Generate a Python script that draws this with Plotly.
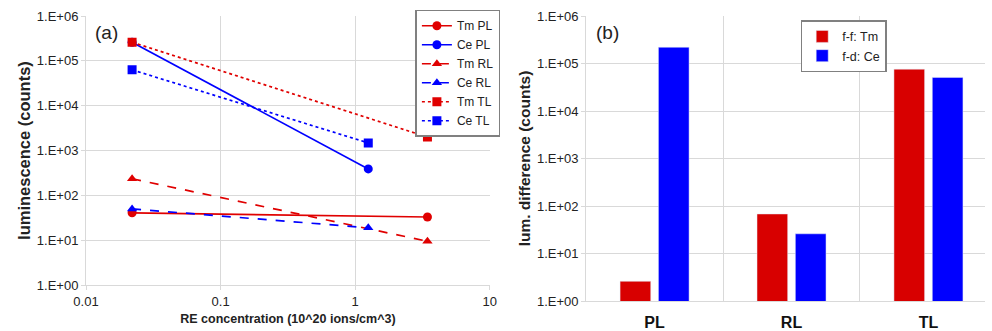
import plotly.graph_objects as go

# ---- data: panel (a) ----
conc_tm = [0.022, 3.44]
conc_ce = [0.022, 1.25]
tm_pl = [41, 33]
ce_pl = [2.6e5, 390]
tm_rl = [235, 9.5]
ce_rl = [50, 19]
tm_tl = [2.6e5, 2000]
ce_tl = [6.3e4, 1480]

# ---- data: panel (b) ----
categories = ["PL", "RL", "TL"]
diff_tm = [2.6, 68, 7.6e4]
diff_ce = [2.2e5, 26, 5.1e4]

ytick_vals = [1, 10, 100, 1e3, 1e4, 1e5, 1e6]
ytick_text = ["1.E+00", "1.E+01", "1.E+02", "1.E+03", "1.E+04", "1.E+05", "1.E+06"]
xtick_vals = [0.01, 0.1, 1, 10]
xtick_text = ["0.01", "0.1", "1", "10"]

RED = "#e00000"
BLUE = "#0000ff"
BAR_RED = "#d80000"
GRID = "#d9d9d9"
FONT = "Liberation Sans, Arial, sans-serif"

fig = go.Figure()

series = [
    ("Tm PL", conc_tm, tm_pl, RED, "solid", "circle"),
    ("Ce PL", conc_ce, ce_pl, BLUE, "solid", "circle"),
    ("Tm RL", conc_tm, tm_rl, RED, "dash", "triangle-up"),
    ("Ce RL", conc_ce, ce_rl, BLUE, "dash", "triangle-up"),
    ("Tm TL", conc_tm, tm_tl, RED, "dot", "square"),
    ("Ce TL", conc_ce, ce_tl, BLUE, "dot", "square"),
]
for name, x, y, c, dash, sym in series:
    fig.add_trace(go.Scatter(
        x=x, y=y, name=name, mode="lines+markers",
        line=dict(color=c, width=1.7, dash=dash),
        marker=dict(color=c, symbol=sym, size=9),
        xaxis="x", yaxis="y", legend="legend",
    ))

fig.add_trace(go.Bar(x=categories, y=diff_tm, name="f-f: Tm", marker_color=BAR_RED,
                     xaxis="x2", yaxis="y2", legend="legend2"))
fig.add_trace(go.Bar(x=categories, y=diff_ce, name="f-d: Ce", marker_color=BLUE,
                     xaxis="x2", yaxis="y2", legend="legend2"))

axis_common = dict(showgrid=True, gridcolor=GRID, gridwidth=1, showline=True,
                   linecolor=GRID, linewidth=1, zeroline=False)
ytick_font = dict(size=13, color="#222", family=FONT)

fig.update_layout(
    width=992, height=331,
    margin=dict(l=86, r=0, t=16, b=28),
    paper_bgcolor="white", plot_bgcolor="white",
    font=dict(family=FONT, color="#222"),
    barmode="group", bargap=0.44, bargroupgap=0.2,
    xaxis=dict(type="log", domain=[0, 0.4492], range=[-2, 1],
               tickvals=xtick_vals, ticktext=xtick_text,
               ticks="outside", ticklen=4, tickcolor=GRID, anchor="y",
               tickfont=ytick_font,
               title=dict(text="<b>RE concentration (10^20 ions/cm^3)</b>",
                          font=dict(size=12.5), standoff=6),
               **axis_common),
    yaxis=dict(type="log", domain=[0.0557, 1], range=[0, 6],
               tickvals=ytick_vals, ticktext=ytick_text,
               ticks="outside", ticklen=4, tickcolor=GRID, anchor="x",
               tickfont=ytick_font,
               title=dict(text="<b>luminescence (counts)</b>",
                          font=dict(size=16.5), standoff=2),
               **axis_common),
    xaxis2=dict(domain=[0.5563, 1], range=[-0.5, 2.413], type="category",
                tickson="boundaries", ticks="", anchor="y2",
                ticklabelstandoff=7,
                tickfont=dict(size=16, color="#111", family=FONT, weight="bold"),
                **axis_common),
    yaxis2=dict(type="log", domain=[0, 1], range=[0, 6],
                tickvals=ytick_vals, ticktext=ytick_text,
                ticks="outside", ticklen=4, tickcolor=GRID, anchor="x2",
                tickfont=ytick_font,
                title=dict(text="<b>lum. difference (counts)</b>",
                           font=dict(size=15.5), standoff=2),
                **axis_common),
    legend=dict(x=0.3664, y=1.022, xanchor="left", yanchor="top",
                bgcolor="white", bordercolor="#808080", borderwidth=1.5,
                font=dict(size=12), itemwidth=30, tracegroupgap=0),
    legend2=dict(x=0.795, y=0.985, xanchor="left", yanchor="top",
                 bgcolor="white", bordercolor="#808080", borderwidth=1.5,
                 font=dict(size=12.5), itemwidth=30),
    showlegend=True,
    annotations=[
        dict(text="(a)", x=0.0077, y=0.941, xref="paper", yref="paper",
             xanchor="left", yanchor="middle", showarrow=False, font=dict(size=19)),
        dict(text="(b)", x=0.565, y=0.941, xref="paper", yref="paper",
             xanchor="left", yanchor="middle", showarrow=False, font=dict(size=19)),
    ],
)

fig.write_html("out.html")
